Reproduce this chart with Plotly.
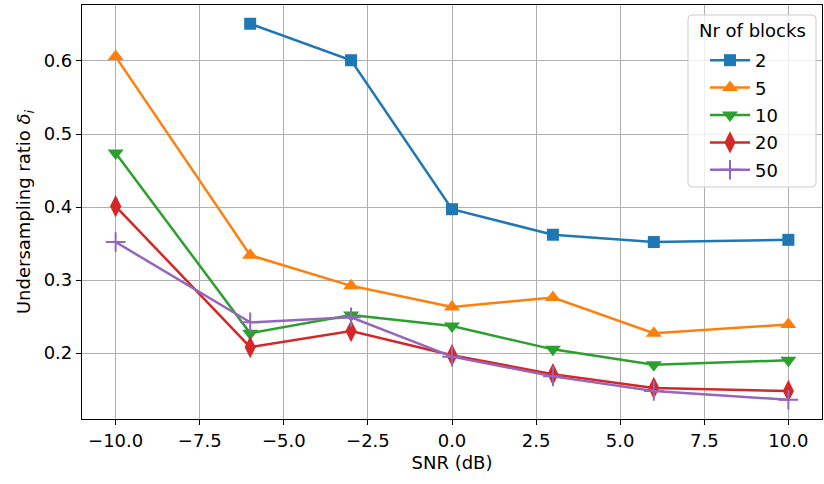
import plotly.graph_objects as go

snr = [-10, -6, -3, 0, 3, 6, 10]
blocks = ["2", "5", "10", "20", "50"]
vals = {
    "2": [None, 0.651, 0.601, 0.397, 0.362, 0.352, 0.355],
    "5": [0.606, 0.334, 0.292, 0.263, 0.276, 0.227, 0.239],
    "10": [0.474, 0.227, 0.252, 0.237, 0.205, 0.184, 0.190],
    "20": [0.401, 0.208, 0.230, 0.197, 0.171, 0.152, 0.148],
    "50": [0.352, 0.242, 0.249, 0.195, 0.168, 0.148, 0.136],
}
colors = ["#1f77b4", "#ff7f0e", "#2ca02c", "#d62728", "#9467bd"]
symbols = ["square", "triangle-up", "triangle-down", "diamond-tall", "cross-thin"]
sizes = [12, 14, 14, 16, 14]

FS = 18
W, H = 824, 484
ML, MR, MT, MB = 82, 2, 5, 65
PW, PH = W - ML - MR, H - MT - MB

def px(xp):
    return (xp - ML) / PW

def py(yp):
    return (H - MB - yp) / PH

fig = go.Figure()
for b, c, s, sz in zip(blocks, colors, symbols, sizes):
    xs = [x for x, v in zip(snr, vals[b]) if v is not None]
    ys = [v for v in vals[b] if v is not None]
    mk = dict(symbol=s, size=sz, color=c)
    if s == "cross-thin":
        mk["line"] = dict(color=c, width=2)
    fig.add_trace(go.Scatter(x=xs, y=ys, mode="lines+markers", name=b, legendgroup=b,
                             line=dict(color=c, width=2.5), marker=mk))

# legend frame (rounded)
x0, x1, y0, y1, r = 688, 816, 15, 187, 4
path = (f"M {px(x0 + r)} {py(y0)} L {px(x1 - r)} {py(y0)} Q {px(x1)} {py(y0)} {px(x1)} {py(y0 + r)} "
        f"L {px(x1)} {py(y1 - r)} Q {px(x1)} {py(y1)} {px(x1 - r)} {py(y1)} "
        f"L {px(x0 + r)} {py(y1)} Q {px(x0)} {py(y1)} {px(x0)} {py(y1 - r)} "
        f"L {px(x0)} {py(y0 + r)} Q {px(x0)} {py(y0)} {px(x0 + r)} {py(y0)} Z")
fig.add_shape(type="path", path=path, xref="paper", yref="paper", layer="above",
              fillcolor="rgba(255,255,255,0.8)", line=dict(color="#cccccc", width=1))
fig.add_annotation(text="Nr of blocks", x=px(752), y=py(31), xref="paper", yref="paper",
                   showarrow=False, font=dict(size=FS, color="black"), xanchor="center", yanchor="middle")

axis_common = dict(showline=True, linecolor="black", linewidth=1.2, mirror=True,
                   showgrid=True, gridcolor="#b0b0b0", gridwidth=1, automargin=False,
                   ticks="outside", ticklen=5, tickcolor="black", zeroline=False,
                   tickfont=dict(size=FS, color="black"))
fig.update_layout(
    width=W, height=H,
    margin=dict(l=ML, r=MR, t=MT, b=MB),
    plot_bgcolor="white", paper_bgcolor="white",
    font=dict(family="DejaVu Sans", size=FS, color="black"),
    xaxis=dict(range=[-11, 11], tickvals=[-10, -7.5, -5, -2.5, 0, 2.5, 5, 7.5, 10],
               ticktext=["\u221210.0", "\u22127.5", "\u22125.0", "\u22122.5", "0.0", "2.5", "5.0", "7.5", "10.0"],
               title=dict(text="SNR (dB)", font=dict(size=FS), standoff=6), **axis_common),
    yaxis=dict(range=[0.1096, 0.6767], tickvals=[0.2, 0.3, 0.4, 0.5, 0.6],
               ticktext=["0.2", "0.3", "0.4", "0.5", "0.6"],
               title=dict(text="Undersampling ratio <i>\u03b4<sub>i</sub></i>", font=dict(size=FS), standoff=8),
               **axis_common),
    legend=dict(x=px(705), y=py(42), xanchor="left", yanchor="top",
                bgcolor="rgba(0,0,0,0)", borderwidth=0,
                font=dict(size=FS), itemwidth=40, tracegroupgap=1),
)
fig.write_html("out.html", post_script="document.body.style.margin='0';",
               config={"displayModeBar": False})
